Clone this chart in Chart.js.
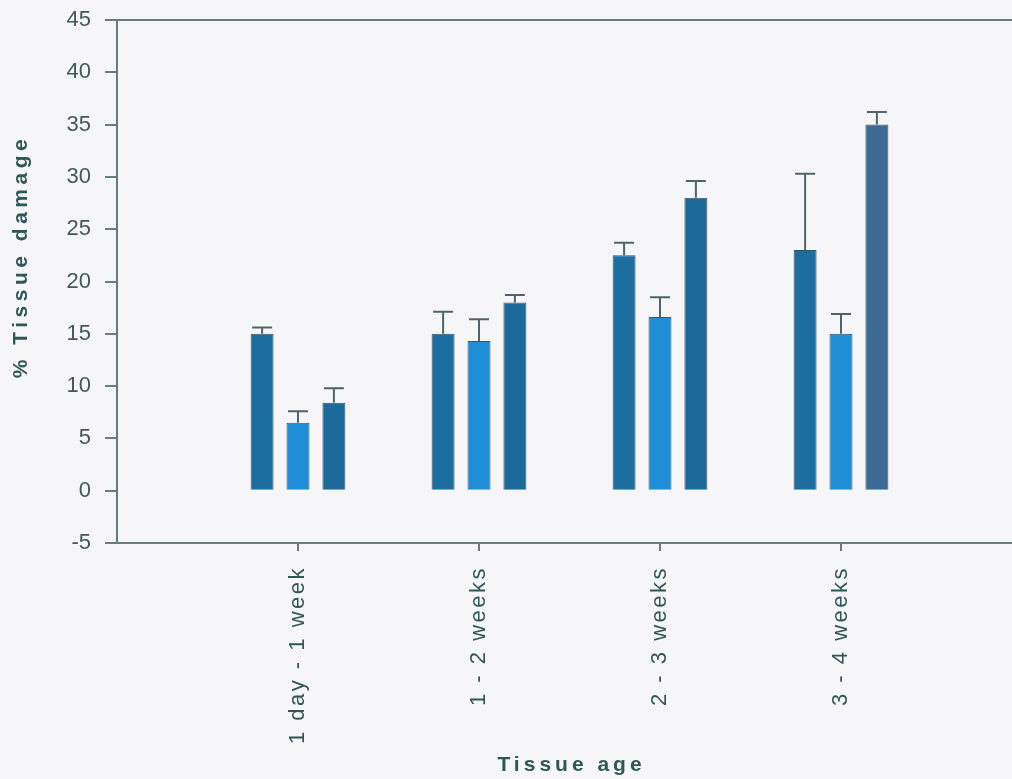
<!DOCTYPE html>
<html>
<head>
<meta charset="utf-8">
<title>Tissue damage by tissue age</title>
<script src="https://cdn.jsdelivr.net/npm/chart.js@4/dist/chart.umd.min.js"></script>
<style>
    html, body {
        margin: 0;
        padding: 0;
        overflow: hidden;
        background: #f6f6f8;
    }
    canvas {
        display: block;
    }
</style>
</head>
<body>
<canvas id="damageChart" width="1024" height="779"></canvas>
<script>
// Data
const categories = ['1 day - 1 week', '1 - 2 weeks', '2 - 3 weeks', '3 - 4 weeks'];
const seriesA = [15.0, 15.0, 22.5, 23.0];
const seriesAErr = [0.6, 2.1, 1.2, 7.3];
const seriesB = [6.5, 14.3, 16.6, 15.0];
const seriesBErr = [1.1, 2.1, 1.9, 1.9];
const seriesC = [8.4, 18.0, 28.0, 35.0];
const seriesCErr = [1.4, 0.7, 1.6, 1.2];
const yTicks = [-5, 0, 5, 10, 15, 20, 25, 30, 35, 40, 45];

// Colours
const AXIS_COLOR = '#667d80';
const TEXT_COLOR = '#2f5757';
const FONT = 'Arial, "Liberation Sans", sans-serif';

// Empty slots either side of the groups leave half a gap at each edge
const pad = arr => [null, ...arr, null];

// Letter-spaced tick labels for a scale
function spaceLabels(scale, spacing) {
    if (scale._spaced) return;
    const draw = scale.drawLabels;
    scale.drawLabels = function (area) {
        const ctx = this.ctx;
        ctx.save();
        ctx.letterSpacing = spacing;
        draw.call(this, area);
        ctx.restore();
    };
    scale._spaced = true;
}

// Upper error bars with caps
const errorBars = {
    id: 'errorBars',
    afterDatasetsDraw(chart) {
        const ctx = chart.ctx;
        const y = chart.scales.y;
        ctx.save();
        ctx.strokeStyle = '#4d6567';
        ctx.lineWidth = 2;
        chart.data.datasets.forEach((ds, i) => {
            const meta = chart.getDatasetMeta(i);
            meta.data.forEach((bar, j) => {
                const v = ds.data[j];
                if (v == null) return;
                const top = y.getPixelForValue(v + ds.errors[j]);
                ctx.beginPath();
                ctx.moveTo(bar.x, bar.y);
                ctx.lineTo(bar.x, top);
                ctx.moveTo(bar.x - 10, top);
                ctx.lineTo(bar.x + 10, top);
                ctx.stroke();
            });
        });
        ctx.restore();
    }
};

// Frame line along the top and the two axis titles
const frameAndTitles = {
    id: 'frameAndTitles',
    beforeDraw(chart) {
        spaceLabels(chart.scales.x, '2.5px');
    },
    afterDraw(chart) {
        const { ctx, chartArea } = chart;
        ctx.save();
        ctx.strokeStyle = AXIS_COLOR;
        ctx.lineWidth = 2;
        ctx.beginPath();
        ctx.moveTo(chartArea.left, chartArea.top);
        ctx.lineTo(chartArea.right, chartArea.top);
        ctx.stroke();

        ctx.fillStyle = TEXT_COLOR;
        ctx.font = 'bold 21px ' + FONT;
        ctx.textAlign = 'center';
        ctx.textBaseline = 'middle';
        ctx.letterSpacing = '4px';
        ctx.fillText('Tissue age', (chartArea.left + chartArea.right) / 2 + 2, 765);

        ctx.translate(21, (chartArea.top + chartArea.bottom) / 2 - 25);
        ctx.rotate(-Math.PI / 2);
        ctx.letterSpacing = '4.5px';
        ctx.fillText('% Tissue damage', 0, 0);
        ctx.restore();
    }
};

const barStyle = {
    borderColor: '#3a5560',
    borderWidth: 1,
    categoryPercentage: 0.595,
    barPercentage: 0.64
};

new Chart(document.getElementById('damageChart'), {
    type: 'bar',
    data: {
        labels: pad(categories),
        datasets: [
            { ...barStyle, data: pad(seriesA), errors: pad(seriesAErr), backgroundColor: '#1b6e9f' },
            { ...barStyle, data: pad(seriesB), errors: pad(seriesBErr), backgroundColor: '#1f8ed6' },
            {
                ...barStyle,
                data: pad(seriesC),
                errors: pad(seriesCErr),
                backgroundColor: pad(['#1c6a9b', '#1c6a9b', '#1c6a9b', '#3b6a93'])
            }
        ]
    },
    options: {
        responsive: false,
        animation: false,
        layout: { padding: { top: 20, right: 2, bottom: 0, left: 0 } },
        plugins: {
            legend: { display: false },
            tooltip: { enabled: false }
        },
        scales: {
            x: {
                type: 'category',
                offset: false,
                grid: {
                    offset: false,
                    drawOnChartArea: false,
                    tickLength: 8,
                    color: AXIS_COLOR,
                    lineWidth: 2
                },
                border: { color: AXIS_COLOR, width: 2 },
                ticks: {
                    autoSkip: false,
                    minRotation: 90,
                    maxRotation: 90,
                    padding: 15,
                    color: TEXT_COLOR,
                    font: { family: FONT, size: 22 }
                },
                afterFit: scale => { scale.height = 236; }
            },
            y: {
                min: yTicks[0],
                max: yTicks[yTicks.length - 1],
                afterBuildTicks: scale => {
                    scale.ticks = yTicks.map(v => ({ value: v }));
                },
                grid: {
                    drawOnChartArea: false,
                    tickLength: 12,
                    color: AXIS_COLOR,
                    lineWidth: 2
                },
                border: { color: AXIS_COLOR, width: 2 },
                ticks: {
                    padding: 14,
                    color: '#445858',
                    font: { family: FONT, size: 22 }
                },
                afterFit: scale => {
                    scale.width = 117;
                    scale.paddingTop = 0;
                    scale.paddingBottom = 0;
                }
            }
        }
    },
    plugins: [errorBars, frameAndTitles]
});
</script>
</body>
</html>
